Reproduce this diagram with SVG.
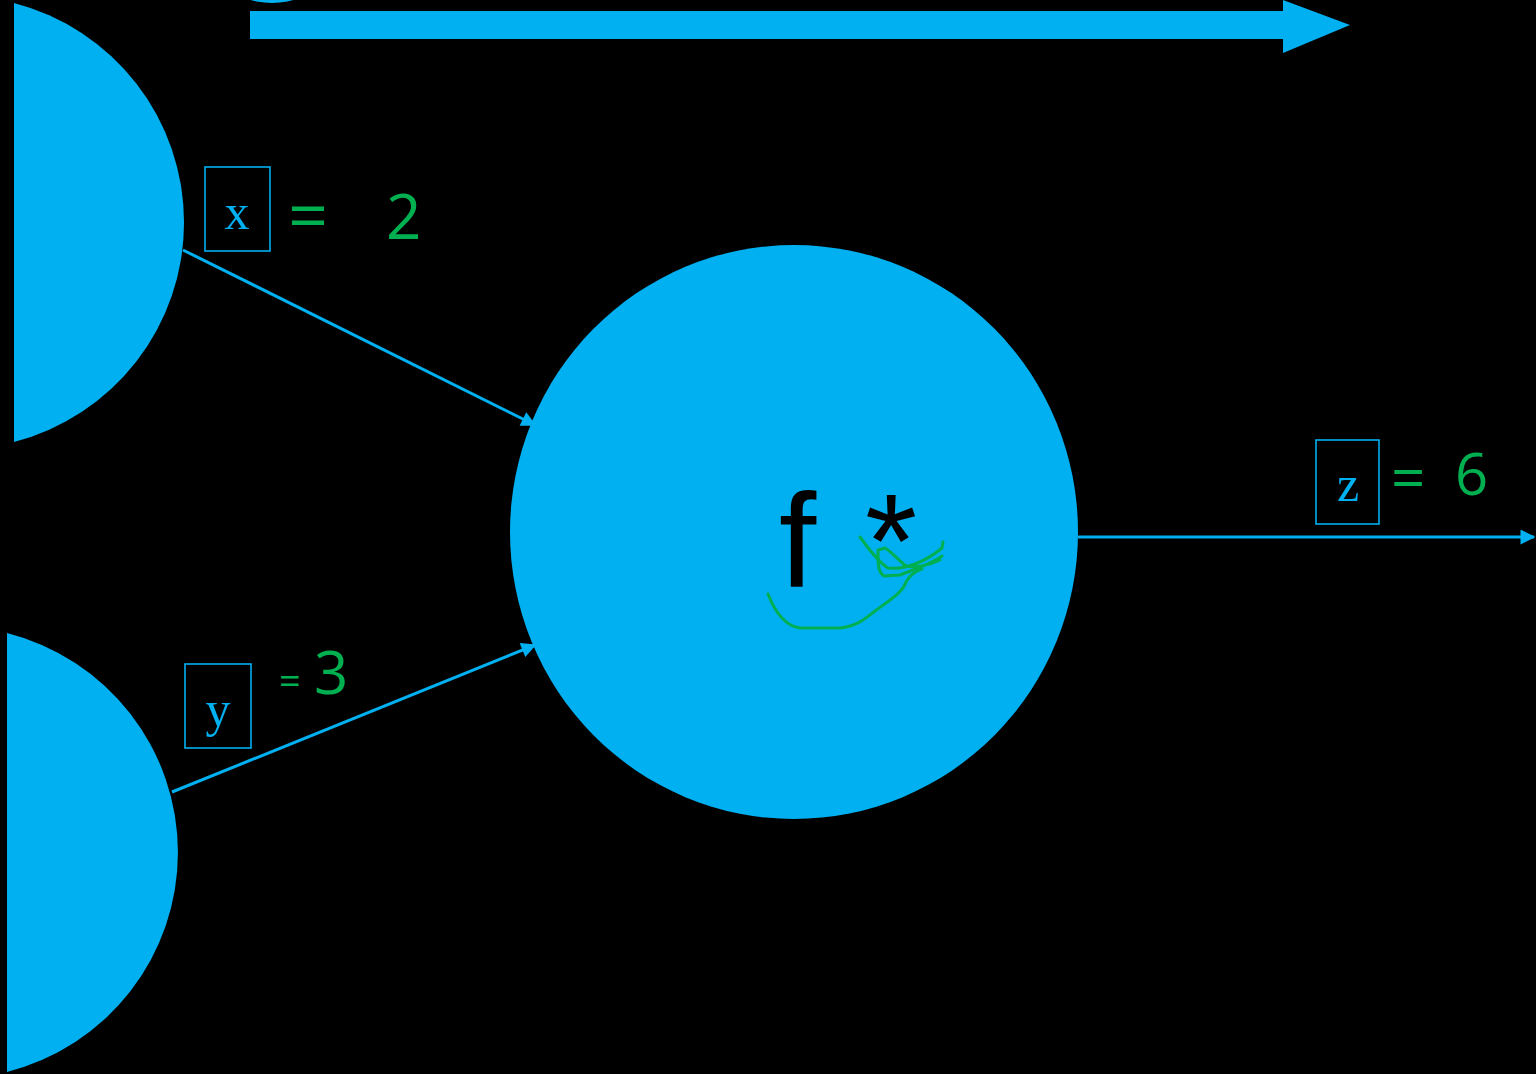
<svg xmlns="http://www.w3.org/2000/svg" width="1536" height="1074" viewBox="0 0 1536 1074">
<style>
.blue{fill:#00b0f0}
.conn{stroke:#00b0f0;stroke-width:3;fill:none}
.box{fill:none;stroke:#00b0f0;stroke-width:1.6}
.var{font-family:"Liberation Serif",serif;font-size:50px;fill:#00b0f0;text-anchor:middle}
.hand{font-family:"Open Sans","DejaVu Sans",sans-serif;font-weight:400;fill:#00b050}
.ink{fill:none;stroke:#00b050;stroke-width:3;stroke-linecap:round;stroke-linejoin:round}
</style>
<defs>
<marker id="ah" viewBox="0 0 10 10" refX="9" refY="5" markerWidth="6" markerHeight="5" markerUnits="strokeWidth" orient="auto">
<path d="M0,0 L10,5 L0,10 Z" fill="#00b0f0"/>
</marker>
</defs>
<rect width="1536" height="1074" fill="#000"/>
<g id="top-circle"><circle class="blue" cx="272" cy="-75" r="78"/></g>
<g id="top-arrow"><path class="blue" d="M250,11 L1283,11 L1283,0 L1350,25 L1283,53 L1283,39 L250,39 Z"/></g>
<g id="node-x-source"><path class="blue" d="M14,3 A226.7,226.7 0 0 1 14,442 Z"/></g>
<g id="node-y-source"><path class="blue" d="M7,633 A226.4,226.4 0 0 1 7,1072 Z"/></g>
<g id="node-f">
<ellipse class="blue" cx="794" cy="532" rx="284" ry="287"/>
<text y="587" font-family="Liberation Sans,sans-serif" font-size="134" fill="#000"><tspan x="779">f</tspan> <tspan x="865">*</tspan></text>
</g>
<g id="connectors">
<line class="conn" x1="183" y1="250" x2="535" y2="425" marker-end="url(#ah)"/>
<line class="conn" x1="172" y1="792" x2="535" y2="645" marker-end="url(#ah)"/>
<line class="conn" x1="1078" y1="537" x2="1534" y2="537" marker-end="url(#ah)"/>
</g>
<g id="label-x">
<rect class="box" x="205" y="167" width="65" height="84"/>
<text class="var" x="237" y="229">x</text>
</g>
<g id="label-y">
<rect class="box" x="185" y="664" width="66" height="84"/>
<text class="var" x="218" y="726">y</text>
</g>
<g id="label-z">
<rect class="box" x="1316" y="440" width="63" height="84"/>
<text class="var" x="1348" y="501">z</text>
</g>
<g id="annotations">
<text class="hand" font-size="62"><tspan x="288" y="240" font-size="70">=</tspan><tspan x="386" y="239">2</tspan></text>
<text class="hand" font-size="60"><tspan x="279" y="694" font-size="38">=</tspan><tspan x="314" y="694">3</tspan></text>
<text class="hand" font-size="58"><tspan x="1391" y="499" font-size="60">=</tspan><tspan x="1455" y="495">6</tspan></text>
<path class="ink" d="M860,537 C868,548 878,562 888,568 C905,570 925,562 942,548 L943,542"/>
<path class="ink" d="M942,556 C930,565 912,570 900,575 L884,576 C878,572 878,565 878,550 L885,548 C893,553 898,560 906,566 C916,568 930,565 940,560"/>
<path class="ink" d="M768,594 C775,612 785,626 800,628 L840,628 C858,626 866,618 875,611 C890,600 903,592 906,582 C910,575 915,571 922,569"/>
</g>
</svg>
